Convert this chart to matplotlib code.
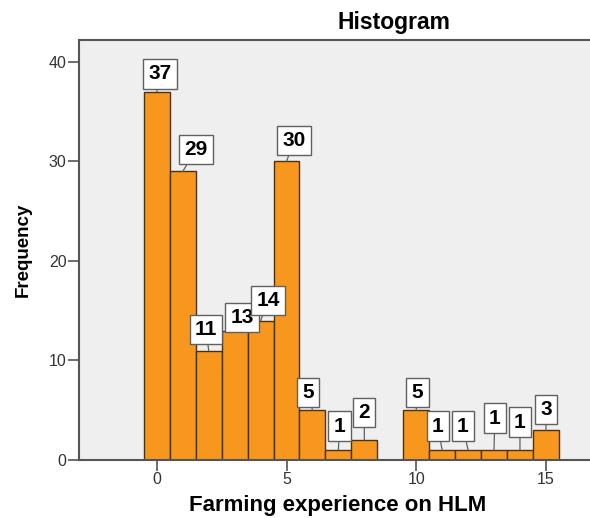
import matplotlib
matplotlib.use("Agg")
import matplotlib.pyplot as plt
import numpy as np

# bin centres (years) and counts
years = np.arange(0, 16)
counts = [37, 29, 11, 13, 14, 30, 5, 1, 2, 0, 5, 1, 1, 1, 1, 3]

# where SPSS put each value box (data coords), only for non-empty bins
label_x = [0.13, 1.52, 1.9, 3.29, 4.3, 5.3, 5.84, 7.04, 8.0, None, 10.05, 10.83, 11.8, 13.03, 14.0, 15.02]
label_y = [38.8, 31.2, 13.1, 14.3, 16.0, 32.1, 6.8, 3.4, 4.8, None, 6.8, 3.4, 3.4, 4.2, 3.8, 5.1]

plt.rcParams['font.family'] = ['Liberation Sans', 'DejaVu Sans']

fig = plt.figure(figsize=(5.9, 5.18), dpi=100)
ax = fig.add_axes([79 / 590, 58 / 518, 511 / 590, 420 / 518])
ax.set_facecolor('#efefef')

ax.bar(years, counts, width=1.0, color='#f7971e', edgecolor='#4a3210', linewidth=1.0, zorder=2)

for x, c, lx, ly in zip(years, counts, label_x, label_y):
    if c == 0:
        continue
    ax.annotate(str(c), xy=(x, c), xytext=(lx, ly), textcoords='data',
                ha='center', va='center', fontsize=15, fontweight='bold', zorder=5,
                bbox=dict(boxstyle='square,pad=0.25', fc='white', ec='#606060', lw=1.0),
                arrowprops=dict(arrowstyle='-', color='#606060', lw=0.9, shrinkA=0, shrinkB=0))

ax.set_xlim(-3.0, 16.7)
ax.set_ylim(0, 42.2)
ax.set_xticks([0, 5, 10, 15])
ax.set_yticks([0, 10, 20, 30, 40])
ax.tick_params(axis='both', direction='out', length=8, width=1.2, color='#555555',
               labelsize=11.5, labelcolor='#333333', pad=1)

for side in ['left', 'bottom', 'top']:
    ax.spines[side].set_color('#555555')
    ax.spines[side].set_linewidth(1.5)
ax.spines['right'].set_visible(False)

ax.set_ylabel('Frequency', fontsize=13.5, fontweight='bold', labelpad=12)
fig.text(337.5 / 590, 1 - 506 / 518, 'Farming experience on HLM', ha='center', va='center',
         fontsize=16, fontweight='bold')
fig.text(394 / 590, 1 - 22 / 518, 'Histogram', ha='center', va='center', fontsize=16.5, fontweight='bold')

fig.savefig('out.png', dpi=100)
